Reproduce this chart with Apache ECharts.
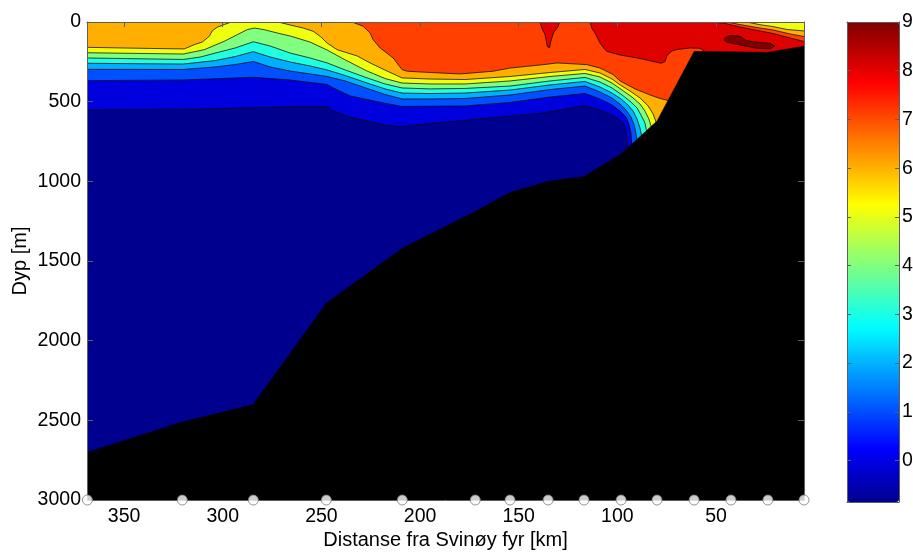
<!DOCTYPE html>
<html>
<head>
<meta charset="utf-8">
<title>Temperatur, Svinøysnittet</title>
<script src="https://cdn.jsdelivr.net/npm/echarts@6/dist/echarts.min.js"></script>
<style>
  html, body { margin: 0; padding: 0; background: #ffffff; }
  #chart { width: 913px; height: 552px; }
</style>
</head>
<body>
<div id="chart"></div>
<script>
// ---- Stations along the section and bottom depth at each station ----
const stationKm   = [368.6, 320.5, 284.5, 247.5, 209.0, 172.0, 154.4, 135.1, 116.9, 98.1, 79.9, 61.1, 42.4, 23.7, 5.4];
const bottomDepth = [2700, 2510, 2400, 1765, 1420, 1190, 1070, 1000, 970, 828, 621, 185, 187, 190, 152];

// ---- Temperature colour scale (°C) ----
const tempMin = -0.85;
const tempMax = 9;

// ---- Tick labels ----
const distanceTicks = [350, 300, 250, 200, 150, 100, 50];
const colorbarTicks = [0, 1, 2, 3, 4, 5, 6, 7, 8, 9];

// ---- Isotherms, [distance km, depth m], from west to east ----
const iso0 = [[368.6,552],[336.7,550],[320.0,549],[303.8,544],[284.5,538],[265.8,532],[247.1,530],[243.7,560],[236.9,592],[218.6,645],[210.1,656],[189.8,632],[164.5,602],[139.2,573],[116.4,524],[108.8,552],[102.7,584],[98.6,615],[96.4,646],[95.3,690],[95.1,741],[94.8,803],[93.6,929]];
const iso1 = [[368.6,368],[320.0,364],[284.5,347],[265.8,364],[247.1,392],[244.0,414],[235.4,464],[218.6,508],[209.1,530],[177.2,527],[154.4,505],[134.1,471],[116.4,449],[108.8,483],[102.7,521],[98.6,559],[95.6,596],[94.1,640],[93.1,697],[92.6,778],[91.0,897]];
const iso2 = [[368.6,297],[320.0,298],[303.8,282],[293.7,267],[284.5,248],[275.9,282],[265.8,308],[255.7,326],[247.1,342],[237.9,370],[226.8,417],[217.7,455],[209.1,483],[194.9,483],[177.2,480],[154.4,458],[134.1,424],[116.4,402],[108.8,439],[102.7,477],[98.6,515],[95.6,552],[93.1,596],[91.5,646],[90.5,703],[90.0,747],[88.5,866]];
const iso3 = [[368.6,259],[320.0,264],[303.8,242],[293.7,217],[284.5,186],[275.9,220],[265.8,251],[255.7,276],[247.1,301],[237.9,336],[226.8,383],[217.7,420],[209.1,446],[194.9,449],[177.2,446],[154.4,427],[134.1,395],[116.4,373],[108.8,408],[102.7,446],[98.1,483],[94.6,521],[92.0,559],[90.0,609],[88.5,665],[87.7,715],[85.5,835]];
const iso4 = [[368.6,226],[320.0,235],[311.4,220],[303.8,195],[293.7,163],[284.5,124],[275.9,151],[265.8,195],[255.7,226],[247.1,257],[237.9,301],[226.8,351],[217.7,389],[209.1,414],[194.9,420],[177.2,417],[154.4,402],[134.1,370],[116.4,348],[108.8,377],[102.7,414],[97.6,458],[93.1,502],[90.0,540],[88.0,584],[86.0,634],[85.2,684],[82.9,803]];
const iso5 = [[368.6,193],[320.0,201],[309.4,174],[299.2,121],[292.7,80],[287.6,48],[284.0,38],[279.0,48],[272.4,69],[265.8,88],[255.7,126],[247.1,176],[237.9,238],[226.8,308],[217.7,355],[209.1,383],[194.9,389],[177.2,389],[154.4,370],[134.1,342],[116.4,323],[108.8,345],[102.7,383],[97.6,427],[92.6,471],[88.5,515],[86.0,559],[84.0,609],[82.9,653],[80.4,772]];
// 6 °C: western part reaching the surface, eastern part, and the coastal branch
const iso6West  = [[368.6,159],[336.7,166],[319.5,169],[314.4,142],[310.4,126],[306.8,90],[305.3,55],[302.8,33],[299.2,16],[295.7,0]];
const iso6East  = [[271.9,0],[265.8,19],[259.2,38],[254.2,58],[250.6,90],[247.1,132],[242.0,174],[231.9,213],[225.3,257],[216.7,308],[209.1,351],[194.9,358],[177.2,361],[154.4,342],[134.1,317],[116.4,298],[108.8,320],[102.7,358],[98.6,395],[93.6,433],[88.5,477],[84.4,527],[81.9,577],[80.4,628],[78.4,741]];
const iso6Coast = [[34.4,0],[27.7,17],[21.1,29],[14.0,47],[5.4,56],[-2.7,58]];
// 7 °C
const iso7      = [[234.4,0],[228.8,27],[225.3,69],[223.8,111],[220.2,163],[213.6,226],[209.1,299],[206.5,309],[194.9,317],[179.7,326],[163.0,309],[154.4,289],[137.7,268],[130.5,257],[120.4,264],[115.3,268],[108.8,289],[102.2,329],[98.6,370],[91.0,420],[83.4,458],[78.4,480],[74.1,493],[68.2,584]];
const iso7Coast = [[44.4,0],[37.9,16],[27.7,38],[21.1,50],[12.5,75],[5.4,91],[-2.7,93]];
// 8 °C
const iso8      = [[113.8,0],[113.0,38],[111.3,69],[108.8,132],[106.2,174],[105.2,185],[98.6,207],[88.5,229],[81.9,248],[77.9,259],[75.8,248],[74.8,210],[72.3,182],[69.8,173],[63.2,163],[58.1,165],[55.6,186],[52.0,270]];
const iso8Coast = [[52.0,0],[45.4,9],[37.9,31],[27.7,56],[21.1,72],[12.5,100],[5.4,122],[-2.7,125]];
const iso8Tongue = [[139.2,0],[138.3,38],[136.6,80],[135.5,153],[134.4,163],[133.7,121],[132.4,69],[129.9,27],[129.4,0]];
// 9 °C (closed core near the shelf)
const iso9Core  = [[45.4,100],[42.9,83],[37.9,90],[34.8,116],[29.7,126],[22.6,134],[20.1,151],[22.6,169],[29.2,165],[37.9,144],[44.3,127],[45.9,113]];

// ---- MATLAB-style jet colormap, 64 steps ----
function jet(t) {
  const c = v => Math.max(0, Math.min(1, v));
  const r = c(1.5 - Math.abs(4 * t - 3));
  const g = c(1.5 - Math.abs(4 * t - 2));
  const b = c(1.5 - Math.abs(4 * t - 1));
  return 'rgb(' + [r, g, b].map(v => Math.round(v * 255)).join(',') + ')';
}
const jetSteps = Array.from({ length: 64 }, (_, i) => jet((i + 1) / 64));
function levelColor(level) {
  const idx = Math.floor((level - tempMin) / (tempMax - tempMin) * 64);
  return jetSteps[Math.max(0, Math.min(63, idx))];
}

// ---- Filled regions (warmer than each level), painted from cold to warm ----
// Closing points sit outside the plot or inside the sea floor, so only isotherm edges show.
const WEST = 380, EAST = -10, SKY = -80;
const rev = a => a.slice().reverse();
function aboveFullWidth(iso) {
  const last = iso[iso.length - 1];
  return [[WEST, SKY], [EAST, SKY], [EAST, last[1]], ...rev(iso), [WEST, iso[0][1]]];
}
function aboveWithCoast(main, coast) {
  const last = main[main.length - 1];
  return [[main[0][0], SKY], [coast[0][0], SKY], ...coast, [EAST, last[1]], ...rev(main)];
}
const regions = [
  { level: 0, pts: aboveFullWidth(iso0) },
  { level: 1, pts: aboveFullWidth(iso1) },
  { level: 2, pts: aboveFullWidth(iso2) },
  { level: 3, pts: aboveFullWidth(iso3) },
  { level: 4, pts: aboveFullWidth(iso4) },
  { level: 5, pts: aboveFullWidth(iso5) },
  { level: 6, pts: [[WEST, SKY], [iso6West[iso6West.length - 1][0], SKY], ...rev(iso6West), [WEST, iso6West[0][1]]] },
  { level: 6, pts: aboveWithCoast(iso6East, iso6Coast) },
  { level: 7, pts: aboveWithCoast(iso7, iso7Coast) },
  { level: 8, pts: aboveWithCoast(iso8, iso8Coast) },
  { level: 8, pts: [[iso8Tongue[0][0], SKY], ...iso8Tongue, [iso8Tongue[iso8Tongue.length - 1][0], SKY]] },
  { level: 9, pts: iso9Core }
];

// Sea floor polygon through the station bottom depths
const floorPts = [[WEST, bottomDepth[0]], ...stationKm.map((k, i) => [k, bottomDepth[i]]),
                  [EAST, bottomDepth[bottomDepth.length - 1]], [EAST, 3300], [WEST, 3300]];

const FONT = "'Liberation Sans', Arial, Helvetica, sans-serif";
const AXIS_COLOR = '#5e5e5e';
const axisLineStyle = { show: true, onZero: false, lineStyle: { color: AXIS_COLOR, width: 1 } };
const labelStyle = { color: '#000', fontFamily: FONT, fontSize: 19.5, formatter: v => String(v) };

const chart = echarts.init(document.getElementById('chart'), null, { renderer: 'canvas' });

chart.setOption({
  animation: false,
  backgroundColor: '#ffffff',
  grid: [
    { left: 87, top: 22, width: 717, height: 478, show: true, backgroundColor: levelColor(tempMin), borderWidth: 0,
      containLabel: false, outerBoundsMode: 'none' },
    { left: 847, top: 22, width: 52, height: 480, show: false, containLabel: false, outerBoundsMode: 'none' }
  ],
  visualMap: {
    type: 'continuous',
    min: tempMin, max: tempMax,
    seriesIndex: [],
    calculable: false,
    hoverLink: false,
    orient: 'vertical',
    left: 847, top: 22,
    itemWidth: 52, itemHeight: 480,
    padding: 0,
    inRange: { color: jetSteps }
  },
  xAxis: [
    {
      gridIndex: 0, type: 'value', position: 'bottom', inverse: true, min: 5.4, max: 368.8,
      name: 'Distanse fra Svinøy fyr [km]', nameLocation: 'middle', nameGap: 30, nameMoveOverlap: false,
      nameTextStyle: { color: '#000', fontFamily: FONT, fontSize: 20 },
      axisLine: axisLineStyle, axisTick: { show: false },
      axisLabel: Object.assign({ customValues: distanceTicks, margin: 7 }, labelStyle),
      splitLine: { show: false }, z: 4
    },
    {
      gridIndex: 0, type: 'value', position: 'top', inverse: true, min: 5.4, max: 368.8,
      axisLine: axisLineStyle,
      axisTick: { show: true, inside: true, length: 5, customValues: distanceTicks, lineStyle: { color: AXIS_COLOR } },
      axisLabel: { show: false }, splitLine: { show: false }, z: 4
    },
    {
      gridIndex: 1, type: 'value', position: 'bottom', min: 0, max: 1,
      axisLine: axisLineStyle, axisTick: { show: false }, axisLabel: { show: false }, splitLine: { show: false }, z: 10
    },
    {
      gridIndex: 1, type: 'value', position: 'top', min: 0, max: 1,
      axisLine: axisLineStyle, axisTick: { show: false }, axisLabel: { show: false }, splitLine: { show: false }, z: 10
    }
  ],
  yAxis: [
    {
      gridIndex: 0, type: 'value', position: 'left', inverse: true, min: 0, max: 3000, interval: 500,
      name: 'Dyp [m]', nameLocation: 'middle', nameGap: 57, nameRotate: 90, nameMoveOverlap: false,
      nameTextStyle: { color: '#000', fontFamily: FONT, fontSize: 20 },
      axisLine: axisLineStyle,
      axisTick: { show: true, inside: true, length: 6, lineStyle: { color: AXIS_COLOR } },
      axisLabel: Object.assign({ margin: 6 }, labelStyle),
      splitLine: { show: false }, z: 4
    },
    {
      gridIndex: 0, type: 'value', position: 'right', inverse: true, min: 0, max: 3000, interval: 500,
      axisLine: axisLineStyle,
      axisTick: { show: true, inside: true, length: 6, lineStyle: { color: AXIS_COLOR } },
      axisLabel: { show: false }, splitLine: { show: false }, z: 4
    },
    {
      gridIndex: 1, type: 'value', position: 'left', min: tempMin, max: tempMax,
      axisLine: axisLineStyle,
      axisTick: { show: true, inside: true, length: 4, customValues: colorbarTicks, lineStyle: { color: AXIS_COLOR } },
      axisLabel: { show: false }, splitLine: { show: false }, z: 10
    },
    {
      gridIndex: 1, type: 'value', position: 'right', min: tempMin, max: tempMax,
      axisLine: axisLineStyle,
      axisTick: { show: true, inside: true, length: 4, customValues: colorbarTicks, lineStyle: { color: AXIS_COLOR } },
      axisLabel: Object.assign({ customValues: colorbarTicks, margin: 3 }, labelStyle),
      splitLine: { show: false }, z: 10
    }
  ],
  series: [
    {
      name: 'Temperatur',
      type: 'custom',
      xAxisIndex: 0, yAxisIndex: 0,
      clip: true, silent: true, z: 2,
      data: regions.map(r => r.pts[0]),
      renderItem: function (params, api) {
        const r = regions[params.dataIndex];
        return {
          type: 'polygon',
          shape: { points: r.pts.map(p => api.coord(p)) },
          style: { fill: levelColor(r.level), stroke: '#0a0a0a', lineWidth: 0.75 }
        };
      }
    },
    {
      name: 'Bunn',
      type: 'custom',
      xAxisIndex: 0, yAxisIndex: 0,
      clip: true, silent: true, z: 3,
      data: [floorPts[0]],
      renderItem: function (params, api) {
        return {
          type: 'polygon',
          shape: { points: floorPts.map(p => api.coord(p)) },
          style: { fill: '#000000', stroke: '#000000', lineWidth: 0.5 }
        };
      }
    },
    {
      name: 'Stasjoner',
      type: 'scatter',
      xAxisIndex: 0, yAxisIndex: 0,
      clip: false, silent: true, z: 5,
      symbol: 'circle', symbolSize: 10,
      itemStyle: { color: '#ffffff', borderColor: '#7a7a7a', borderWidth: 1 },
      data: stationKm.map(k => [k, 3000])
    }
  ]
});
</script>
</body>
</html>
